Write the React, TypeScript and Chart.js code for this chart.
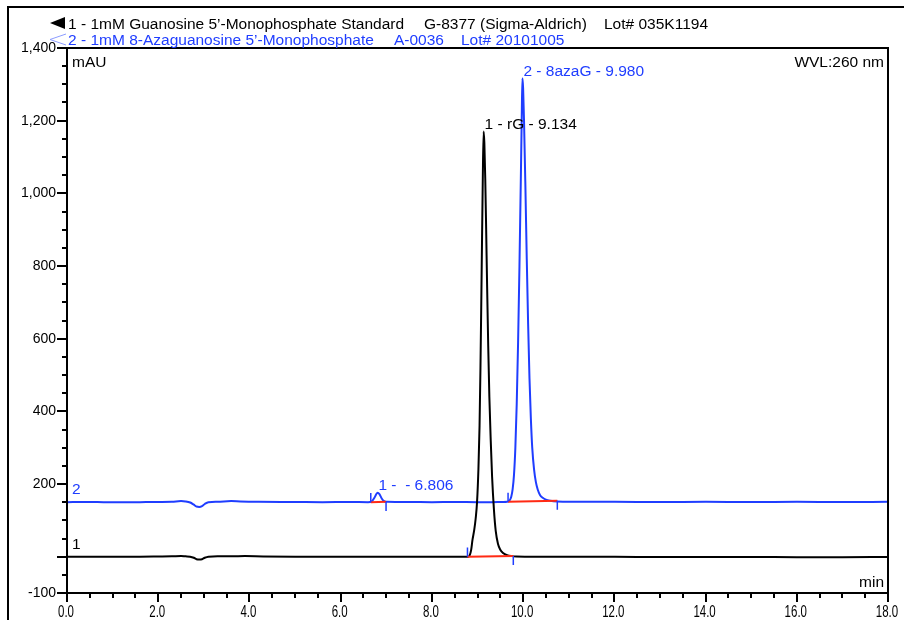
import React, { useEffect, useRef } from "react";
import { Chart, registerables } from "chart.js";

Chart.register(...registerables);

// ---- Data ----
// Trace 1 (black): 1mM Guanosine 5'-Monophosphate
const trace1Times = [
  0, 0.4, 0.8, 1.2, 1.6, 2.0, 2.3, 2.5, 2.6, 2.7, 2.78, 2.84, 2.9, 2.96, 3.02, 3.1,
  3.3, 3.6, 3.9, 4.3, 5.0, 5.6, 6.2, 6.8, 7.4, 8.0, 8.4, 8.7, 8.8, 8.83, 8.86, 8.89,
  8.93, 8.96, 8.99, 9.02, 9.045, 9.065, 9.085, 9.1, 9.115, 9.134, 9.15, 9.17, 9.19,
  9.21, 9.235, 9.26, 9.29, 9.32, 9.36, 9.4, 9.45, 9.5, 9.56, 9.65, 9.75, 9.85, 10.2,
  11.0, 12.0, 13.0, 14.0, 15.0, 16.0, 17.0, 18.0,
];
const trace1Values = [
  0, 0, -0.5, 0, 0, 0.5, 1, 2, 1, 0, -3, -7, -8, -7, -3, 0,
  1, 1, 1.5, 0.5, 0, 0, -0.5, 0, 0, 0, -0.5, 0, 0, 4, 18, 46,
  75, 105, 150, 240, 360, 520, 720, 880, 1030, 1170, 1140, 1040, 900,
  750, 580, 440, 320, 220, 130, 70, 35, 19, 10, 4, 1.5, 0.5, 0,
  -0.5, -0.5, -1, -1, -1, -1.5, -1.5, -1,
];

// Trace 2 (blue): 1mM 8-Azaguanosine 5'-Monophosphate
const trace2Times = [
  0, 0.4, 0.8, 1.2, 1.6, 2.0, 2.3, 2.5, 2.6, 2.7, 2.78, 2.84, 2.9, 2.96, 3.02, 3.1,
  3.3, 3.6, 3.8, 4.2, 5.0, 5.6, 6.2, 6.6, 6.68, 6.74, 6.78, 6.81, 6.85, 6.9, 6.95,
  7.02, 7.5, 8.0, 8.5, 9.0, 9.3, 9.55, 9.65, 9.7, 9.74, 9.77, 9.8, 9.83, 9.86, 9.89,
  9.92, 9.95, 9.97, 9.985, 10.0, 10.02, 10.05, 10.08, 10.11, 10.14, 10.17, 10.2,
  10.24, 10.28, 10.32, 10.37, 10.43, 10.5, 10.6, 10.75, 11.0, 12.0, 13.0, 14.0,
  15.0, 16.0, 17.0, 18.0,
];
const trace2Values = [
  150, 150.5, 150, 149.5, 150, 150.5, 151, 153, 152, 149, 143, 138, 137, 139, 145, 150,
  151, 153, 152, 151, 150.5, 150, 150.5, 150, 152, 162, 172, 176, 172, 160, 153,
  151, 150.5, 150, 150.5, 150, 150, 150.5, 151, 154, 165, 185, 225, 300, 420, 590,
  800, 1040, 1210, 1317, 1290, 1200, 1020, 820, 640, 490, 380, 300,
  240, 205, 185, 170, 162, 157, 154, 152, 151, 151, 150.5, 151,
  150.5, 151, 150.5, 151,
];

// Peak labels
const peakLabels = ["1 - rG - 9.134", "2 - 8azaG - 9.980", "1 -  - 6.806"];
const peakLabelTimes = [9.134, 9.985, 6.806];
const peakLabelValues = [1170, 1317, 176];
const peakLabelSeries = [1, 2, 2];

// Integration baselines (start / end of each peak)
const baseStartTimes = [8.78, 9.67, 6.66];
const baseStartValues = [0, 151, 150];
const baseEndTimes = [9.785, 10.75, 6.995];
const baseEndValues = [2, 154, 151];

// Axis ticks
const xTickValues = [0, 2, 4, 6, 8, 10, 12, 14, 16, 18];
const xTickLabels = ["0.0", "2.0", "4.0", "6.0", "8.0", "10.0", "12.0", "14.0", "16.0", "18.0"];
const yTickValues = [-100, 0, 200, 400, 600, 800, 1000, 1200, 1400];
const yTickLabels = ["-100", "", "200", "400", "600", "800", "1,000", "1,200", "1,400"];

// Legend texts
const legendLine1 = [
  "1 - 1mM Guanosine 5\u2019-Monophosphate Standard",
  "G-8377 (Sigma-Aldrich)",
  "Lot# 035K1194",
];
const legendLine2 = [
  "2 - 1mM 8-Azaguanosine 5\u2019-Monophosphate",
  "A-0036",
  "Lot# 20101005",
];

const BLUE = "#1f3dff";
const BLACK = "#000000";
const RED = "#ff2a14";
const FONT = "'Liberation Sans', Arial, Helvetica, sans-serif";
const MARK_LEN = 25;

const decorPlugin = {
  id: "decor",
  afterDraw(chart: any) {
    const ctx = chart.ctx as CanvasRenderingContext2D;
    const ca = chart.chartArea;
    const xs = chart.scales.x;
    const ys = chart.scales.y;
    ctx.save();

    // outer frame (left & top lines)
    ctx.strokeStyle = BLACK;
    ctx.lineWidth = 2;
    ctx.beginPath();
    ctx.moveTo(8, 620);
    ctx.lineTo(8, 7);
    ctx.lineTo(904, 7);
    ctx.stroke();

    // plot frame
    ctx.strokeRect(ca.left, ca.top, ca.right - ca.left, ca.bottom - ca.top);

    // y ticks
    ctx.lineWidth = 2;
    for (let v = -100; v <= 1400; v += 50) {
      const major = yTickValues.indexOf(v) >= 0;
      const py = Math.round(ys.getPixelForValue(v));
      ctx.beginPath();
      ctx.moveTo(ca.left - (major ? 10 : 5), py);
      ctx.lineTo(ca.left, py);
      ctx.stroke();
    }
    // x ticks
    for (let v = 0; v <= 18; v += 0.5) {
      const major = xTickValues.indexOf(v) >= 0;
      const px = Math.round(xs.getPixelForValue(v));
      ctx.beginPath();
      ctx.moveTo(px, ca.bottom);
      ctx.lineTo(px, ca.bottom + (major ? 9 : 5));
      ctx.stroke();
    }

    // x tick labels (condensed)
    ctx.fillStyle = BLACK;
    ctx.font = `14px ${FONT}`;
    ctx.textAlign = "center";
    ctx.textBaseline = "middle";
    xTickValues.forEach((v, i) => {
      const px = xs.getPixelForValue(v) - 1;
      ctx.save();
      ctx.translate(px, ca.bottom + 20);
      ctx.scale(0.82, 1.15);
      ctx.fillText(xTickLabels[i], 0, 0);
      ctx.restore();
    });

    // legend
    ctx.font = `15.5px ${FONT}`;
    ctx.textBaseline = "alphabetic";
    ctx.textAlign = "left";
    const l1x = [68, 424, 604];
    const l2x = [68, 394, 461];
    ctx.fillStyle = BLACK;
    legendLine1.forEach((t, i) => ctx.fillText(t, l1x[i], 28.5));
    ctx.fillStyle = BLUE;
    legendLine2.forEach((t, i) => ctx.fillText(t, l2x[i], 44.5));
    // legend markers
    ctx.fillStyle = BLACK;
    ctx.beginPath();
    ctx.moveTo(50, 23);
    ctx.lineTo(65, 17);
    ctx.lineTo(65, 29);
    ctx.closePath();
    ctx.fill();
    ctx.strokeStyle = "#8c9cff";
    ctx.lineWidth = 1;
    ctx.beginPath();
    ctx.moveTo(66, 34);
    ctx.lineTo(50, 39.5);
    ctx.lineTo(66, 45);
    ctx.stroke();

    // in-plot labels
    ctx.font = `15.5px ${FONT}`;
    ctx.fillStyle = BLACK;
    ctx.textBaseline = "middle";
    ctx.textAlign = "left";
    ctx.fillText("mAU", ca.left + 5, ca.top + 15);
    ctx.textAlign = "right";
    ctx.fillText("WVL:260 nm", ca.right - 4, ca.top + 15);
    ctx.fillText("min", ca.right - 4, ca.bottom - 10);
    ctx.textAlign = "left";
    ctx.fillStyle = BLUE;
    ctx.fillText("2", ca.left + 5, ys.getPixelForValue(150) - 12);
    ctx.fillStyle = BLACK;
    ctx.fillText("1", ca.left + 5, ys.getPixelForValue(0) - 12);

    // peak labels
    ctx.textBaseline = "alphabetic";
    peakLabels.forEach((t, i) => {
      ctx.fillStyle = peakLabelSeries[i] === 1 ? BLACK : BLUE;
      ctx.fillText(t, xs.getPixelForValue(peakLabelTimes[i]) + 1, ys.getPixelForValue(peakLabelValues[i]) - 2.5);
    });

    ctx.restore();
  },
};

export default function App() {
  const ref = useRef<HTMLCanvasElement | null>(null);

  useEffect(() => {
    if (!ref.current) return;
    const trace1 = trace1Times.map((t, i) => ({ x: t, y: trace1Values[i] }));
    const trace2 = trace2Times.map((t, i) => ({ x: t, y: trace2Values[i] }));
    const baselines: any[] = [];
    const marks: any[] = [];
    baseStartTimes.forEach((t, i) => {
      baselines.push({ x: t, y: baseStartValues[i] });
      baselines.push({ x: baseEndTimes[i], y: baseEndValues[i] });
      baselines.push({ x: baseEndTimes[i], y: null });
      marks.push({ x: t, y: baseStartValues[i] });
      marks.push({ x: t, y: baseStartValues[i] + MARK_LEN });
      marks.push({ x: t, y: null });
      marks.push({ x: baseEndTimes[i], y: baseEndValues[i] });
      marks.push({ x: baseEndTimes[i], y: baseEndValues[i] - MARK_LEN });
      marks.push({ x: baseEndTimes[i], y: null });
    });

    const chart = new Chart(ref.current, {
      type: "line",
      data: {
        datasets: [
          { data: marks, borderColor: BLUE, borderWidth: 1.5, pointRadius: 0, spanGaps: false, order: 0 },
          { data: baselines, borderColor: RED, borderWidth: 2, pointRadius: 0, spanGaps: false, order: 1 },
          { data: trace1, borderColor: BLACK, borderWidth: 2, pointRadius: 0, cubicInterpolationMode: "monotone", order: 2 },
          { data: trace2, borderColor: BLUE, borderWidth: 2, pointRadius: 0, cubicInterpolationMode: "monotone", order: 3 },
        ] as any,
      },
      options: {
        animation: false,
        responsive: false,
        maintainAspectRatio: false,
        devicePixelRatio: 1,
        layout: { padding: { top: 48, right: 16, left: 0, bottom: 0 } },
        plugins: { legend: { display: false }, tooltip: { enabled: false } },
        scales: {
          x: {
            type: "linear",
            min: 0,
            max: 18,
            afterFit: (s: any) => {
              s.height = 27;
              s.paddingLeft = 0;
              s.paddingRight = 0;
            },
            afterBuildTicks: (s: any) => { s.ticks = xTickValues.map((v) => ({ value: v })); },
            ticks: { display: false },
            grid: { display: false, drawTicks: false },
            border: { display: false },
          },
          y: {
            type: "linear",
            min: -100,
            max: 1400,
            afterFit: (s: any) => {
              s.width = 67;
              s.paddingTop = 0;
              s.paddingBottom = 0;
            },
            afterBuildTicks: (s: any) => { s.ticks = yTickValues.map((v) => ({ value: v })); },
            ticks: {
              autoSkip: false,
              padding: 11,
              color: BLACK,
              font: { family: FONT, size: 14 },
              callback: (v: any) => yTickLabels[yTickValues.indexOf(Number(v))] ?? "",
            },
            grid: { display: false, drawTicks: false },
            border: { display: false },
          },
        },
      },
      plugins: [decorPlugin],
    });
    return () => chart.destroy();
  }, []);

  return (
    <div style={{ position: "fixed", left: 0, top: 0, width: 904, height: 620, background: "#fff" }}>
      <canvas ref={ref} width={904} height={620} style={{ width: 904, height: 620, display: "block" }} />
    </div>
  );
}
